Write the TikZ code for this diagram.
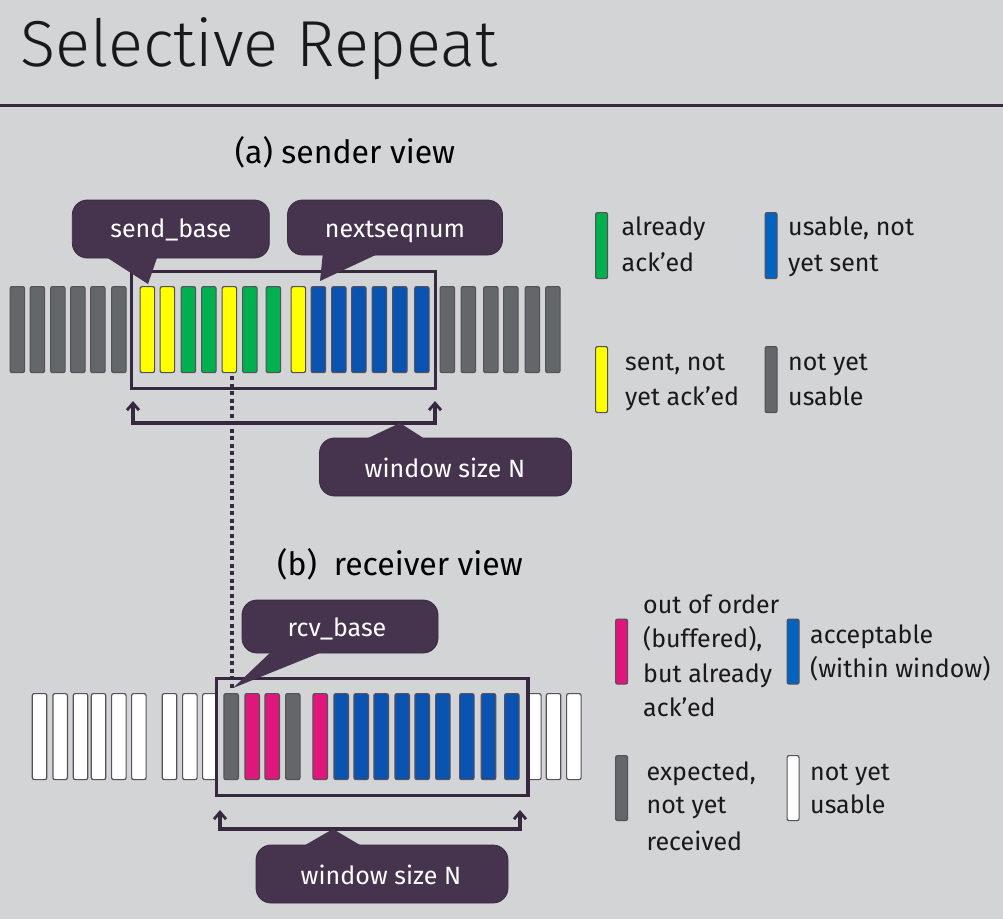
\documentclass[tikz,border=0pt]{standalone}
\usepackage{fontspec}
\setmainfont{Fira Sans}
\newfontfamily\titlefont{Fira Sans Light}
\usetikzlibrary{arrows.meta}
\definecolor{bg}{HTML}{D3D4D6}
\definecolor{cpurple}{HTML}{46344F}
\definecolor{boxline}{HTML}{35283F}
\definecolor{pgrey}{HTML}{63676A}
\definecolor{pstroke}{HTML}{55505A}
\definecolor{pyellow}{HTML}{FFFF00}
\definecolor{pgreen}{HTML}{00B04F}
\definecolor{pblue}{HTML}{0B53B0}
\definecolor{lblue}{HTML}{0563C0}
\definecolor{ppink}{HTML}{E0177A}
\definecolor{pwhite}{HTML}{FFFFFF}
\begin{document}
\begin{tikzpicture}[x=1pt,y=-1pt,
  pkt/.style={draw=pstroke,line width=1.2pt,rounded corners=2pt,minimum width=14.5pt,minimum height=86pt,inner sep=0pt,anchor=north west},
  lkey/.style={draw=pstroke,line width=1.2pt,rounded corners=2pt,minimum width=12pt,minimum height=66pt,inner sep=0pt,anchor=north west},
  winbox/.style={draw=boxline,line width=3.8pt,inner sep=0pt},
  callout/.style={fill=cpurple,draw=cpurple!80!black,line width=0.8pt,rounded corners=15pt,inner sep=0pt},
  ctext/.style={text=white,font=\fontsize{25}{30}\selectfont,anchor=base,inner sep=0pt},
  heading/.style={text=black,font=\fontsize{32}{38}\selectfont,anchor=base,inner sep=0pt},
  ltext/.style={text=black!90,font=\fontsize{25}{30}\selectfont,anchor=base west,inner sep=0pt},
  bracket/.style={draw=boxline,line width=3.3pt,{Straight Barb[length=7pt,width=12pt,line width=2.8pt]}-{Straight Barb[length=7pt,width=12pt,line width=2.8pt]}},
  dotline/.style={draw=boxline,line width=4pt,dash pattern=on 4pt off 3.5pt}
]
\useasboundingbox (0,0) rectangle (1003,919);
\fill[bg] (0,0) rectangle (1003,919);

% title
\node[anchor=base west,inner sep=0pt,font=\titlefont\fontsize{65}{70}\selectfont,text=black!90] (title) at (20,66) {Selective Repeat};
\draw[boxline,line width=3pt] (0,105) coordinate (tl) -- (1003,105) coordinate (tr);

% headings
\node[heading] (ha) at (345,163) {(a) sender view};
\node[heading] (hb) at (400,575) {(b)\ \ receiver view};

% sender packets
\foreach \x/\c [count=\i] in {9.5/pgrey,29.5/pgrey,50/pgrey,70/pgrey,90/pgrey,111/pgrey,
  139.5/pyellow,159.5/pyellow,180.5/pgreen,201/pgreen,221.5/pyellow,242/pgreen,265.5/pgreen,290.5/pyellow,
  310.5/pblue,331/pblue,351/pblue,371.5/pblue,392/pblue,414/pblue,
  439.5/pgrey,460.5/pgrey,483/pgrey,503/pgrey,524.5/pgrey,545/pgrey}
  \node[pkt,fill=\c] (s\i) at (\x,286) {};

% receiver packets
\foreach \x/\c [count=\i] in {31.7/pwhite,52.3/pwhite,72.7/pwhite,90.7/pwhite,111/pwhite,131/pwhite,
  161.7/pwhite,182/pwhite,202/pwhite,223.3/pgrey,244.3/ppink,264.3/ppink,285/pgrey,312.3/ppink,
  333.3/pblue,353.3/pblue,373.3/pblue,394.3/pblue,414.3/pblue,435/pblue,459/pblue,480.7/pblue,504/pblue,
  526/pwhite,545.7/pwhite,566/pwhite}
  \node[pkt,fill=\c] (r\i) at (\x,693) {};

% window boxes
\node[winbox,minimum width=304pt,minimum height=117pt] (sw) at (283.5,330) {};
\node[winbox,minimum width=311.5pt,minimum height=117pt] (rw) at (372.25,737) {};

% dotted link
\coordinate (dtop) at (231.7,376);
\coordinate (dbot) at (231.7,688);
\draw[dotline] (dtop) -- (dbot);

% brackets
\coordinate (sla) at (133,401); \coordinate (sl) at (133,423);
\coordinate (sr) at (435,423);  \coordinate (sra) at (435,401);
\draw[bracket] (sla) -- (sl) -- (sr) -- (sra);
\coordinate (rla) at (220,810); \coordinate (rl) at (220,829);
\coordinate (rr) at (520,829);  \coordinate (rra) at (520,810);
\draw[bracket] (rla) -- (rl) -- (rr) -- (rra);

% callouts
\node[callout,minimum width=197pt,minimum height=58pt] (sb) at (170.8,229) {};
\coordinate (sbtip) at (148,284);
\fill[cpurple] (103,255) -- (sbtip) -- (158,255) -- cycle;
\node[ctext] (sbt) at (171,237) {send\_base};

\node[callout,minimum width=215pt,minimum height=55pt] (ns) at (395,227.5) {};
\coordinate (nstip) at (320,281);
\fill[cpurple] (323,252) -- (nstip) -- (382,252) -- cycle;
\node[ctext] (nst) at (395,237) {nextseqnum};

\node[callout,minimum width=252pt,minimum height=58pt] (sn) at (445.5,467) {};
\coordinate (sntip) at (400,423);
\fill[cpurple] (361.7,441) -- (sntip) -- (428,441) -- cycle;
\node[ctext] (snt) at (445,477) {window size N};

\node[callout,minimum width=196pt,minimum height=53pt] (rb) at (340,626.5) {};
\coordinate (rbtip) at (233,688);
\fill[cpurple] (273,650) -- (rbtip) -- (327,650) -- cycle;
\node[ctext] (rbt) at (337,636) {rcv\_base};

\node[callout,minimum width=252pt,minimum height=58pt] (rn) at (382,874) {};
\coordinate (rntip) at (333,829);
\fill[cpurple] (300,848) -- (rntip) -- (365,848) -- cycle;
\node[ctext] (rnt) at (381,884) {window size N};

% sender legend
\node[lkey,fill=pgreen] (k1) at (595,212) {};
\node[ltext] (k1a) at (621.5,235) {already};
\node[ltext] (k1b) at (621.5,271.5) {ack’ed};
\node[lkey,fill=lblue] (k2) at (764.5,212) {};
\node[ltext] (k2a) at (788,235) {usable, not};
\node[ltext] (k2b) at (788,271.5) {yet sent};
\node[lkey,fill=pyellow] (k3) at (595,346) {};
\node[ltext] (k3a) at (625,370) {sent, not};
\node[ltext] (k3b) at (625,405) {yet ack’ed};
\node[lkey,fill=pgrey] (k4) at (764.5,346) {};
\node[ltext] (k4a) at (788,370) {not yet};
\node[ltext] (k4b) at (788,405) {usable};

% receiver legend
\node[lkey,fill=ppink,minimum height=65pt] (q1) at (615,618.5) {};
\node[ltext] (q1a) at (643,613) {out of order};
\node[ltext] (q1b) at (643,647.5) {(buffered),};
\node[ltext] (q1c) at (643,682) {but already};
\node[ltext] (q1d) at (643,716.5) {ack’ed};
\node[lkey,fill=lblue,minimum height=65pt] (q2) at (786.5,618.5) {};
\node[ltext] (q2a) at (810,643) {acceptable};
\node[ltext] (q2b) at (810,677) {(within window)};
\node[lkey,fill=pgrey,minimum height=65pt] (q3) at (615,755) {};
\node[ltext] (q3a) at (646.5,780) {expected,};
\node[ltext] (q3b) at (646.5,813) {not yet};
\node[ltext] (q3c) at (646.5,850) {received};
\node[lkey,fill=pwhite,minimum height=65pt] (q4) at (786.5,755) {};
\node[ltext] (q4a) at (810,780) {not yet};
\node[ltext] (q4b) at (810,813) {usable};
\end{tikzpicture}
\end{document}
